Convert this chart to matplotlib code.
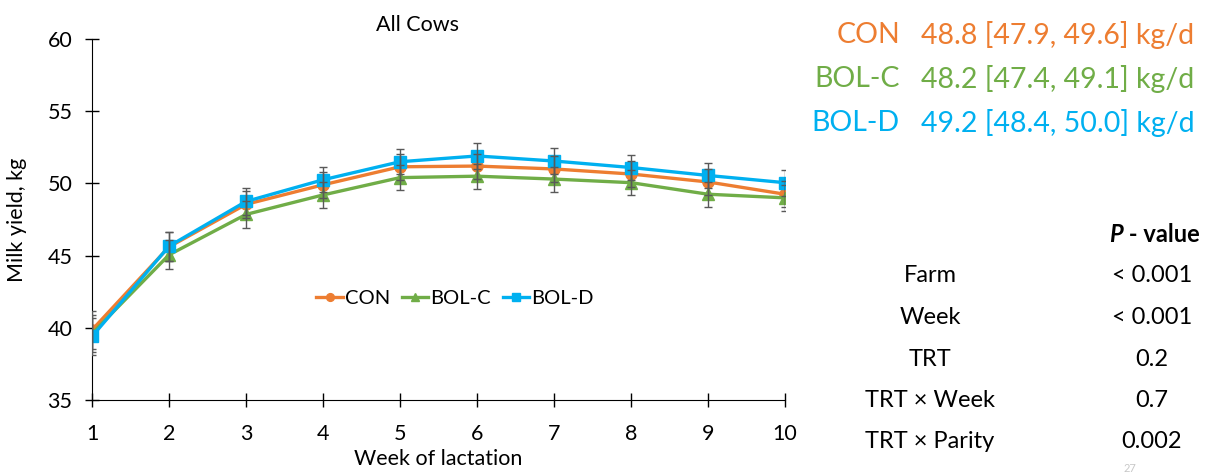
import matplotlib
matplotlib.use("Agg")
import matplotlib.pyplot as plt

plt.rcParams['font.family'] = ['Lato', 'DejaVu Sans']

weeks = [1, 2, 3, 4, 5, 6, 7, 8, 9, 10]
con = [39.85, 45.6, 48.55, 49.9, 51.15, 51.2, 51.0, 50.65, 50.1, 49.25]
bol_c = [39.6, 45.05, 47.85, 49.2, 50.4, 50.5, 50.3, 50.05, 49.25, 49.0]
bol_d = [39.4, 45.65, 48.75, 50.25, 51.5, 51.9, 51.55, 51.1, 50.55, 50.05]
se = [1.3, 1.0, 0.92, 0.88, 0.88, 0.87, 0.87, 0.87, 0.87, 0.9]

groups = ["CON", "BOL-C", "BOL-D"]
group_means = ["48.8 [47.9, 49.6] kg/d", "48.2 [47.4, 49.1] kg/d", "49.2 [48.4, 50.0] kg/d"]

effects = ["Farm", "Week", "TRT", "TRT × Week", "TRT × Parity"]
p_values = ["< 0.001", "< 0.001", "0.2", "0.7", "0.002"]

colors = ["#ED7D31", "#70AD47", "#00B0F0"]
markers = ["o", "^", "s"]

W, H = 1212, 476
fig = plt.figure(figsize=(W / 100, H / 100), dpi=100)
ax = fig.add_axes([92 / W, 1 - 400 / H, (785 - 92) / W, (400 - 39) / H])

for series, name, col, mk in zip([con, bol_c, bol_d], groups, colors, markers):
    ax.errorbar(weeks, series, yerr=se, fmt="none", ecolor="#595959",
                elinewidth=1, capsize=3, capthick=1, zorder=4)
    ax.plot(weeks, series, color=col, marker=mk, markersize=8, lw=2.4,
            label=name, zorder=3)

ax.set_xlim(1, 10)
ax.set_ylim(35, 60)
ax.set_xticks(weeks)
ax.set_yticks([35, 40, 45, 50, 55, 60])
ax.spines["top"].set_visible(False)
ax.spines["right"].set_visible(False)
ax.tick_params(direction="inout", length=10, width=1, labelsize=15.5)
ax.tick_params(axis="x", pad=12)
ax.tick_params(axis="y", pad=9)
ax.set_xlabel("Week of lactation", fontsize=15.5, labelpad=4)
ax.set_ylabel("Milk yield, kg", fontsize=15.5, labelpad=15)
ax.set_title("All Cows", fontsize=15.5, pad=6, x=0.47)

ax.legend(loc="center", bbox_to_anchor=((455 - 92) / 693, 1 - (298 - 39) / 361),
          ncol=3, frameon=False, fontsize=14.5, handlelength=1.3, handletextpad=0.1,
          columnspacing=0.6, markerscale=0.7)

# treatment means with confidence intervals
for i, (name, txt, col) in enumerate(zip(groups, group_means, colors)):
    y = 1 - (35 + i * 44) / H
    fig.text(900 / W, y, name, color=col, fontsize=20.5, ha="right", va="center")
    fig.text(921 / W, y, txt, color=col, fontsize=20.5, ha="left", va="center")

# p-value table
hdr = fig.text(1200 / W, 1 - 234 / H, " - value", fontsize=17, fontweight="bold",
               ha="right", va="center")
renderer = fig.canvas.get_renderer()
hdr_box = hdr.get_window_extent(renderer)
fig.text(hdr_box.x0 / W, 1 - 234 / H, "P", fontsize=17, fontweight="bold",
         fontstyle="italic", ha="right", va="center")
for i, (eff, pv) in enumerate(zip(effects, p_values)):
    y = 1 - (276 + i * 41.5) / H
    fig.text(930 / W, y, eff, fontsize=17, ha="center", va="center")
    fig.text(1152 / W, y, pv, fontsize=17, ha="center", va="center")

# slide number
fig.text(1130 / W, 1 - 474 / H, "27", fontsize=8, color="#c8c8c8",
         ha="center", va="bottom")

fig.savefig("out.png", dpi=100)
